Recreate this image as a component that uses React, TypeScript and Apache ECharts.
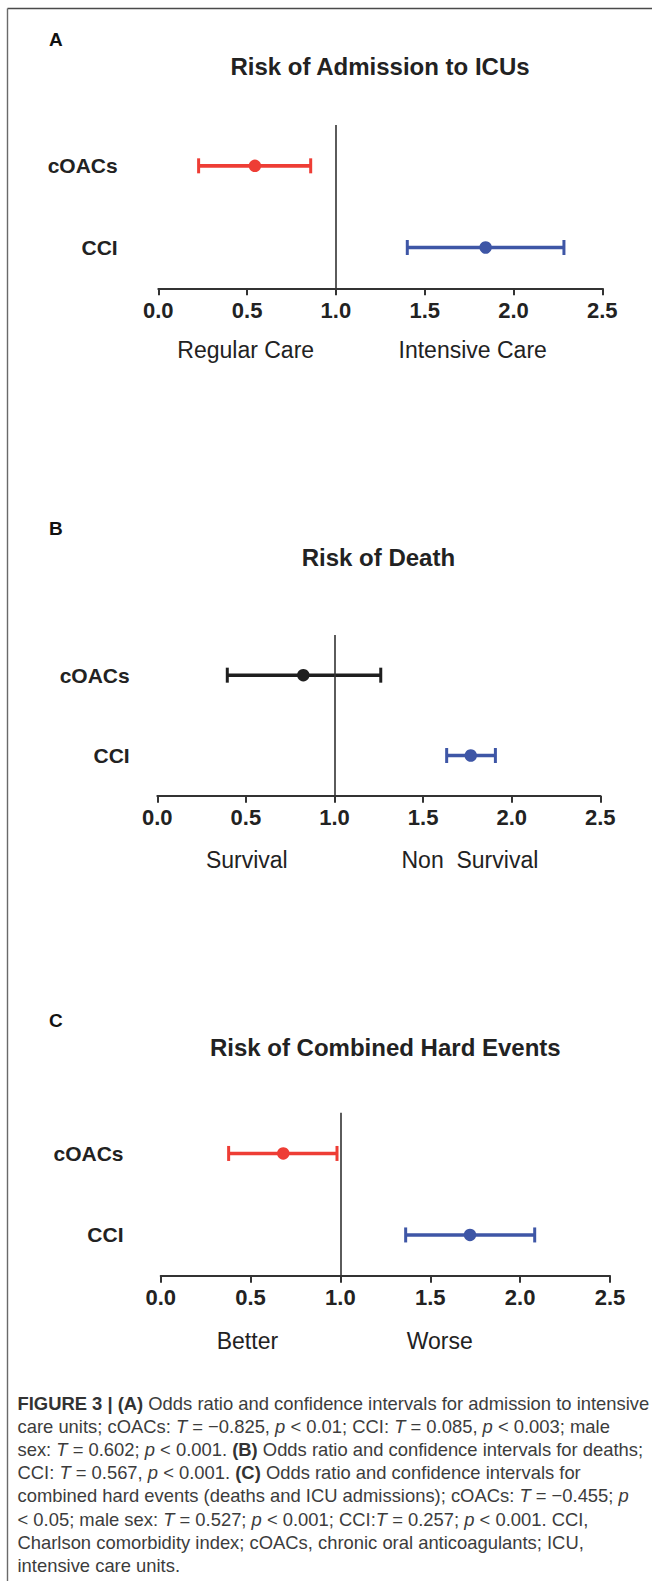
import React, { useEffect, useRef } from "react";
import * as echarts from "echarts";

// Rows from bottom to top of each forest plot
const categories = ["CCI", "cOACs"];

// Panel A: admission to ICUs (odds ratio with 95% CI)
const admissionEstimate = [1.843, 0.544];
const admissionLower = [1.402, 0.227];
const admissionUpper = [2.284, 0.858];

// Panel B: death
const deathEstimate = [1.769, 0.824];
const deathLower = [1.633, 0.395];
const deathUpper = [1.908, 1.261];

// Panel C: combined hard events
const combinedEstimate = [1.721, 0.682];
const combinedLower = [1.363, 0.378];
const combinedUpper = [2.081, 0.981];

const panelLetters = ["A", "B", "C"];
const panelTitles = [
  "Risk of Admission to ICUs",
  "Risk of Death",
  "Risk of Combined Hard Events",
];
const leftLabels = ["Regular Care", "Survival", "Better"];
const rightLabels = ["Intensive Care", "Non  Survival", "Worse"];

const captionLines = [
  "{b|FIGURE 3 | (A)} Odds ratio and confidence intervals for admission to intensive",
  "care units; cOACs: {i|T} = \u22120.825, {i|p} < 0.01; CCI: {i|T} = 0.085, {i|p} < 0.003; male",
  "sex: {i|T} = 0.602; {i|p} < 0.001. {b|(B)} Odds ratio and confidence intervals for deaths;",
  "CCI: {i|T} = 0.567, {i|p} < 0.001. {b|(C)} Odds ratio and confidence intervals for",
  "combined hard events (deaths and ICU admissions); cOACs: {i|T} = \u22120.455; {i|p}",
  "< 0.05; male sex: {i|T} = 0.527; {i|p} < 0.001; CCI:{i|T} = 0.257; {i|p} < 0.001. CCI,",
  "Charlson comorbidity index; cOACs, chronic oral anticoagulants; ICU,",
  "intensive care units.",
];

const RED = "#ee3d35";
const BLUE = "#3e56a6";
const BLACK = "#1f1f1f";
const AXIS = "#333333";
const FONT = '"Liberation Sans", Arial, Helvetica, sans-serif';
const CAPTION_FONT = '"Liberation Sans", Arial, Helvetica, sans-serif';
const CAPTION_SIZE = 18.4;
const CAPTION_COLOR = "#3c3c3c";

const panels = [
  {
    estimate: admissionEstimate,
    lower: admissionLower,
    upper: admissionUpper,
    colors: [BLUE, RED],
    grid: { left: 158.3, top: 125, width: 444, height: 163.3 },
    labelMargin: 40.6,
    letterY: 39.7,
    titleY: 66,
    titleX: 380,
    bottomY: 350,
    bottomX: [245.7, 472.7],
  },
  {
    estimate: deathEstimate,
    lower: deathLower,
    upper: deathUpper,
    colors: [BLUE, BLACK],
    grid: { left: 157.3, top: 635, width: 443, height: 160.7 },
    labelMargin: 27.6,
    letterY: 528.3,
    titleY: 557.5,
    titleX: 378.4,
    bottomY: 860,
    bottomX: [246.8, 469.9],
  },
  {
    estimate: combinedEstimate,
    lower: combinedLower,
    upper: combinedUpper,
    colors: [BLUE, RED],
    grid: { left: 160.7, top: 1112.7, width: 449.3, height: 163 },
    labelMargin: 37.2,
    letterY: 1020,
    titleY: 1047,
    titleX: 385.3,
    bottomY: 1341.2,
    bottomX: [247.4, 439.7],
  },
];

function buildOption() {
  const grid: any[] = [];
  const xAxis: any[] = [];
  const yAxis: any[] = [];
  const series: any[] = [];
  const graphic: any[] = [];

  panels.forEach((p, k) => {
    grid.push({ ...p.grid, containLabel: false });
    xAxis.push({
      type: "value",
      gridIndex: k,
      min: 0,
      max: 2.5,
      interval: 0.5,
      splitLine: { show: false },
      axisLine: { show: true, lineStyle: { color: AXIS, width: 2 } },
      axisTick: { show: true, length: 7, lineStyle: { color: AXIS, width: 2 } },
      axisLabel: {
        margin: 11,
        color: "#222222",
        fontFamily: FONT,
        fontWeight: "bold",
        fontSize: 22,
        formatter: (v: number) => v.toFixed(1),
      },
    });
    yAxis.push({
      type: "category",
      gridIndex: k,
      data: categories,
      axisLine: { show: false },
      axisTick: { show: false },
      splitLine: { show: false },
      axisLabel: {
        margin: p.labelMargin,
        color: "#222222",
        fontFamily: FONT,
        fontWeight: "bold",
        fontSize: 21,
      },
    });

    // reference line at odds ratio 1
    series.push({
      type: "scatter",
      xAxisIndex: k,
      yAxisIndex: k,
      data: [],
      z: 1,
      silent: true,
      markLine: {
        silent: true,
        symbol: ["none", "none"],
        label: { show: false },
        lineStyle: { color: AXIS, width: 1.6, type: "solid" },
        data: [{ xAxis: 1 }],
      },
    });

    // confidence interval whiskers
    const colors = p.colors;
    series.push({
      type: "custom",
      xAxisIndex: k,
      yAxisIndex: k,
      z: 2,
      data: p.lower.map((lo, i) => [lo, p.upper[i], i]),
      encode: { x: [0, 1], y: 2 },
      renderItem: (params: any, api: any) => {
        const row = api.value(2);
        const a = api.coord([api.value(0), row]);
        const b = api.coord([api.value(1), row]);
        const color = colors[params.dataIndex];
        const cap = 7.5;
        return {
          type: "group",
          children: [
            {
              type: "line",
              shape: { x1: a[0], y1: a[1], x2: b[0], y2: b[1] },
              style: { stroke: color, lineWidth: 3.6 },
            },
            {
              type: "line",
              shape: { x1: a[0], y1: a[1] - cap, x2: a[0], y2: a[1] + cap },
              style: { stroke: color, lineWidth: 3 },
            },
            {
              type: "line",
              shape: { x1: b[0], y1: b[1] - cap, x2: b[0], y2: b[1] + cap },
              style: { stroke: color, lineWidth: 3 },
            },
          ],
        };
      },
    });

    // point estimates
    series.push({
      type: "scatter",
      xAxisIndex: k,
      yAxisIndex: k,
      z: 3,
      symbol: "circle",
      symbolSize: 12.5,
      data: p.estimate.map((v, i) => ({
        value: [v, i],
        itemStyle: { color: colors[i], opacity: 1 },
      })),
    });

    graphic.push({
      type: "text",
      x: 49,
      y: p.letterY,
      style: {
        text: panelLetters[k],
        fill: "#111111",
        fontFamily: FONT,
        fontWeight: "bold",
        fontSize: 19,
        align: "left",
        verticalAlign: "middle",
      },
    });
    graphic.push({
      type: "text",
      x: p.titleX,
      y: p.titleY,
      style: {
        text: panelTitles[k],
        fill: "#222222",
        fontFamily: FONT,
        fontWeight: "bold",
        fontSize: 24,
        align: "center",
        verticalAlign: "middle",
      },
    });
    [leftLabels[k], rightLabels[k]].forEach((t, j) => {
      graphic.push({
        type: "text",
        x: p.bottomX[j],
        y: p.bottomY,
        style: {
          text: t,
          fill: "#222222",
          fontFamily: FONT,
          fontSize: 23,
          align: "center",
          verticalAlign: "middle",
        },
      });
    });
  });

  // frame around the figure
  graphic.push({
    type: "line",
    shape: { x1: 7.5, y1: 8.5, x2: 652, y2: 8.5 },
    style: { stroke: "#4a4a4a", lineWidth: 1.6 },
  });
  graphic.push({
    type: "line",
    shape: { x1: 7.5, y1: 8.5, x2: 7.5, y2: 1581 },
    style: { stroke: "#6a6a6a", lineWidth: 1.4 },
  });

  // caption
  captionLines.forEach((line, i) => {
    graphic.push({
      type: "text",
      x: 17.5,
      y: 1403 + i * 23.2,
      style: {
        text: line,
        fill: CAPTION_COLOR,
        fontFamily: CAPTION_FONT,
        fontSize: CAPTION_SIZE,
        align: "left",
        verticalAlign: "middle",
        rich: {
          b: {
            fill: "#333333",
            fontFamily: CAPTION_FONT,
            fontWeight: "bold",
            fontSize: CAPTION_SIZE,
          },
          i: {
            fill: CAPTION_COLOR,
            fontFamily: CAPTION_FONT,
            fontStyle: "italic",
            fontSize: CAPTION_SIZE,
          },
        },
      },
    });
  });

  return {
    animation: false,
    backgroundColor: "#ffffff",
    grid,
    xAxis,
    yAxis,
    series,
    graphic,
  };
}

export default function App() {
  const ref = useRef<HTMLDivElement>(null);
  useEffect(() => {
    if (!ref.current) return;
    const chart = echarts.init(ref.current, null, { renderer: "svg" });
    chart.setOption(buildOption() as any);
    return () => chart.dispose();
  }, []);
  return (
    <div
      ref={ref}
      style={{ position: "absolute", left: 0, top: 0, width: 652, height: 1581 }}
    />
  );
}
